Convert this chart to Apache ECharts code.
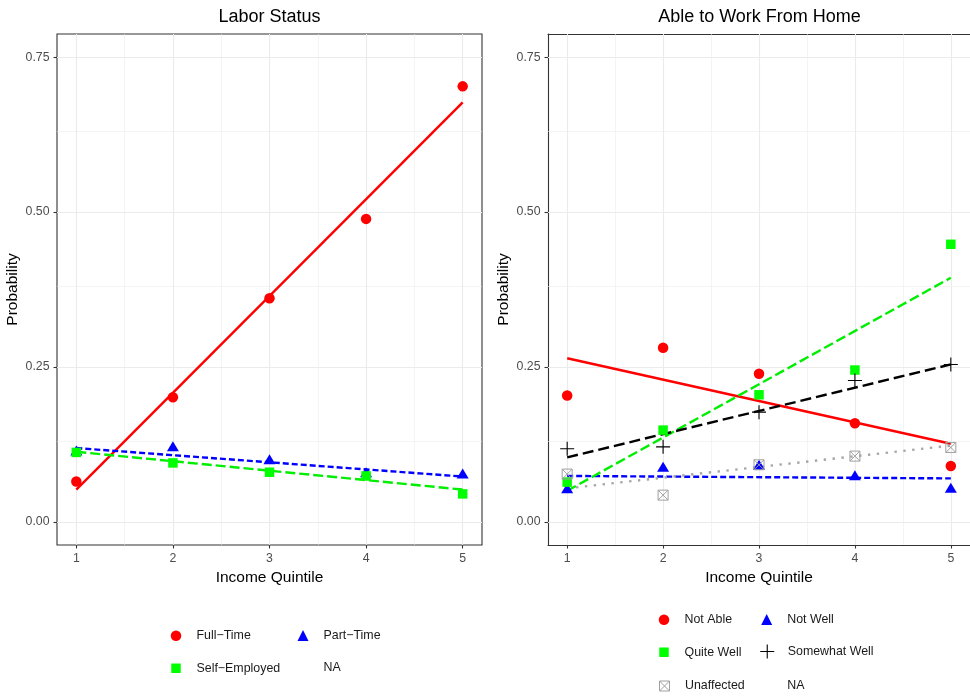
<!DOCTYPE html>
<html>
<head>
<meta charset="utf-8">
<script src="https://cdn.jsdelivr.net/npm/echarts@6/dist/echarts.min.js"></script>
<style>
  html, body { margin: 0; padding: 0; background: #fff; }
  #chart { width: 970px; height: 697px; }
</style>
</head>
<body>
<div id="chart"></div>
<script>
// income quintiles and axis breaks
const quintiles = [1, 2, 3, 4, 5];
const fitX = [1, 5];
const xTicks = [1, 2, 3, 4, 5];
const xMinor = [1.5, 2.5, 3.5, 4.5];
const yTicks = [0, 0.25, 0.5, 0.75];
const yMinor = [0.125, 0.375, 0.625];

// Labor Status
const fullTime = [0.065, 0.201, 0.361, 0.489, 0.703];
const fullTimeFit = [0.052, 0.677];
const partTime = [0.115, 0.122, 0.101, 0.080, 0.078];
const partTimeFit = [0.119, 0.073];
const selfEmployed = [0.112, 0.095, 0.080, 0.074, 0.045];
const selfEmployedFit = [0.113, 0.052];

// Able to Work From Home
const notAble = [0.204, 0.281, 0.239, 0.159, 0.090];
const notAbleFit = [0.264, 0.126];
const notWell = [0.054, 0.089, 0.092, 0.075, 0.055];
const notWellFit = [0.074, 0.070];
const quiteWell = [0.064, 0.148, 0.205, 0.245, 0.448];
const quiteWellFit = [0.050, 0.394];
const somewhatWell = [0.118, 0.121, 0.177, 0.228, 0.254];
const somewhatWellFit = [0.104, 0.254];
const unaffected = [0.077, 0.043, 0.092, 0.106, 0.120];
const unaffectedFit = [0.054, 0.123];

const FONT = "'Liberation Sans', Arial, sans-serif";
const PLUS = "path://M0,7H14M7,0V14";
const BOXX = "path://M0,0H10V10H0Z M0,0L10,10 M10,0L0,10";
const BORDER = { color: "#333", width: 1.1 };

const pairs = (xs, ys) => xs.map((x, i) => [x, ys[i]]);

function gridLines(idx) {
  const major = { color: "#ebebeb", width: 1.1, type: "solid" };
  const minor = { color: "#ebebeb", width: 0.55, type: "solid" };
  return {
    type: "line", xAxisIndex: idx, yAxisIndex: idx, data: [], z: 0, silent: true,
    markLine: {
      z: 1, silent: true, symbol: ["none", "none"], label: { show: false },
      emphasis: { disabled: true },
      data: [
        ...xMinor.map((v) => ({ xAxis: v, lineStyle: minor })),
        ...yMinor.map((v) => ({ yAxis: v, lineStyle: minor })),
        ...xTicks.map((v) => ({ xAxis: v, lineStyle: major })),
        ...yTicks.map((v) => ({ yAxis: v, lineStyle: major })),
      ],
    },
  };
}

function points(name, idx, ys, symbol, size, itemStyle) {
  return {
    name, type: "scatter", xAxisIndex: idx, yAxisIndex: idx, z: 4,
    data: pairs(quintiles, ys), symbol, symbolSize: size,
    itemStyle: { opacity: 1, ...itemStyle },
  };
}

function fit(idx, ys, color, dash) {
  return {
    type: "line", xAxisIndex: idx, yAxisIndex: idx, z: 3, silent: true,
    data: pairs(fitX, ys), showSymbol: false, symbol: "none",
    lineStyle: { color, type: dash, width: 2.4, cap: "butt" },
  };
}

// one legend box per key so both columns line up like the ggplot guide
function legendAt(name, cx, cy, size, style) {
  return {
    data: [name], left: cx - size / 2, top: cy - size / 2, padding: 0,
    itemWidth: size, itemHeight: size, selectedMode: false,
    textStyle: {
      fontSize: 12.4, color: "#1a1a1a", fontFamily: FONT,
      padding: [0, 0, 0, 20.5 - size / 2 - 5],
    },
    itemStyle: { opacity: 1, borderWidth: 0, ...style },
  };
}

function xAxisFor(idx, border) {
  return {
    type: "value", gridIndex: idx, min: 0.8, max: 5.2,
    name: "Income Quintile", nameLocation: "middle", nameGap: 24,
    nameTextStyle: { fontSize: 15.5, color: "#000", fontFamily: FONT },
    axisLine: { show: border, onZero: false, lineStyle: BORDER },
    axisTick: { show: true, length: 3.5, customValues: xTicks, lineStyle: BORDER },
    axisLabel: { customValues: xTicks, margin: 7.5, fontSize: 12.3, color: "#4d4d4d", fontFamily: FONT },
    splitLine: { show: false },
  };
}

function yAxisFor(idx, border) {
  return {
    type: "value", gridIndex: idx, min: -0.0375, max: 0.7875,
    name: "Probability", nameLocation: "middle", nameGap: 36,
    nameTextStyle: { fontSize: 15.5, color: "#000", fontFamily: FONT },
    axisLine: { show: border, onZero: false, lineStyle: BORDER },
    axisTick: { show: true, length: 3.5, customValues: yTicks, lineStyle: BORDER },
    axisLabel: {
      customValues: yTicks, margin: 7.5, fontSize: 12.3, color: "#4d4d4d", fontFamily: FONT,
      formatter: (v) => v.toFixed(2),
    },
    splitLine: { show: false },
  };
}

const chart = echarts.init(document.getElementById("chart"));
chart.setOption({
  animation: false,
  backgroundColor: "#fff",
  textStyle: { fontFamily: FONT },
  grid: [
    { left: 57, top: 34, width: 425, height: 511, show: true, borderColor: "#333", borderWidth: 1.1, backgroundColor: "transparent" },
    // right panel runs past the page edge in the original, so no right border
    { left: 548, top: 34, width: 424, height: 511, show: false },
  ],
  xAxis: [
    xAxisFor(0, false),
    xAxisFor(1, true),
    // top edge of the right panel
    {
      type: "value", gridIndex: 1, position: "top", min: 0.8, max: 5.2,
      axisLine: { show: true, onZero: false, lineStyle: BORDER },
      axisTick: { show: false }, axisLabel: { show: false }, splitLine: { show: false },
    },
  ],
  yAxis: [yAxisFor(0, false), yAxisFor(1, true)],
  graphic: [
    { type: "text", x: 269.5, y: 17, style: { text: "Labor Status", align: "center", verticalAlign: "middle", textAlign: "center", textVerticalAlign: "middle", fontSize: 18, fill: "#000", fontFamily: FONT } },
    { type: "text", x: 759.5, y: 17, style: { text: "Able to Work From Home", align: "center", verticalAlign: "middle", textAlign: "center", textVerticalAlign: "middle", fontSize: 18, fill: "#000", fontFamily: FONT } },
  ],
  legend: [
    legendAt("Full−Time", 176, 635, 10.5),
    legendAt("Part−Time", 303, 635, 11),
    legendAt("Self−Employed", 176, 667, 9.5),
    { ...legendAt("NA", 303, 667, 11), data: [{ name: "NA", icon: "none" }] },
    legendAt("Not Able", 664, 619, 10.5),
    legendAt("Not Well", 766.7, 619, 11),
    legendAt("Quite Well", 664, 651, 9.5),
    legendAt("Somewhat Well", 766.7, 651, 14, { borderWidth: 1.1 }),
    legendAt("Unaffected", 664, 685, 10, { borderWidth: 1 }),
    { ...legendAt("NA", 766.7, 685, 11), data: [{ name: "NA", icon: "none" }] },
  ],
  series: [
    gridLines(0),
    gridLines(1),
    fit(0, fullTimeFit, "#ff0000", "solid"),
    fit(0, partTimeFit, "#0000ff", [6, 3]),
    fit(0, selfEmployedFit, "#00ee00", [10, 4]),
    points("Full−Time", 0, fullTime, "circle", 10.5, { color: "#ff0000" }),
    points("Part−Time", 0, partTime, "triangle", [12, 10], { color: "#0000ff" }),
    points("Self−Employed", 0, selfEmployed, "rect", 9.5, { color: "#00ff00" }),
    { name: "NA", type: "scatter", xAxisIndex: 0, yAxisIndex: 0, data: [], symbol: "none" },

    fit(1, notAbleFit, "#ff0000", "solid"),
    fit(1, notWellFit, "#0000ff", [6, 3]),
    fit(1, quiteWellFit, "#00ee00", [10, 4]),
    fit(1, somewhatWellFit, "#000000", [11, 5]),
    fit(1, unaffectedFit, "#a6a6a6", [2.4, 6.5]),
    points("Not Able", 1, notAble, "circle", 10.5, { color: "#ff0000" }),
    points("Not Well", 1, notWell, "triangle", [12, 10], { color: "#0000ff" }),
    points("Quite Well", 1, quiteWell, "rect", 9.5, { color: "#00ff00" }),
    points("Somewhat Well", 1, somewhatWell, PLUS, 14, { color: "rgba(0,0,0,0)", borderColor: "#000", borderWidth: 1.1 }),
    points("Unaffected", 1, unaffected, BOXX, 10, { color: "rgba(0,0,0,0)", borderColor: "#a0a0a0", borderWidth: 1 }),
    { name: "NA", type: "scatter", xAxisIndex: 1, yAxisIndex: 1, data: [], symbol: "none" },
  ],
});
</script>
</body>
</html>
